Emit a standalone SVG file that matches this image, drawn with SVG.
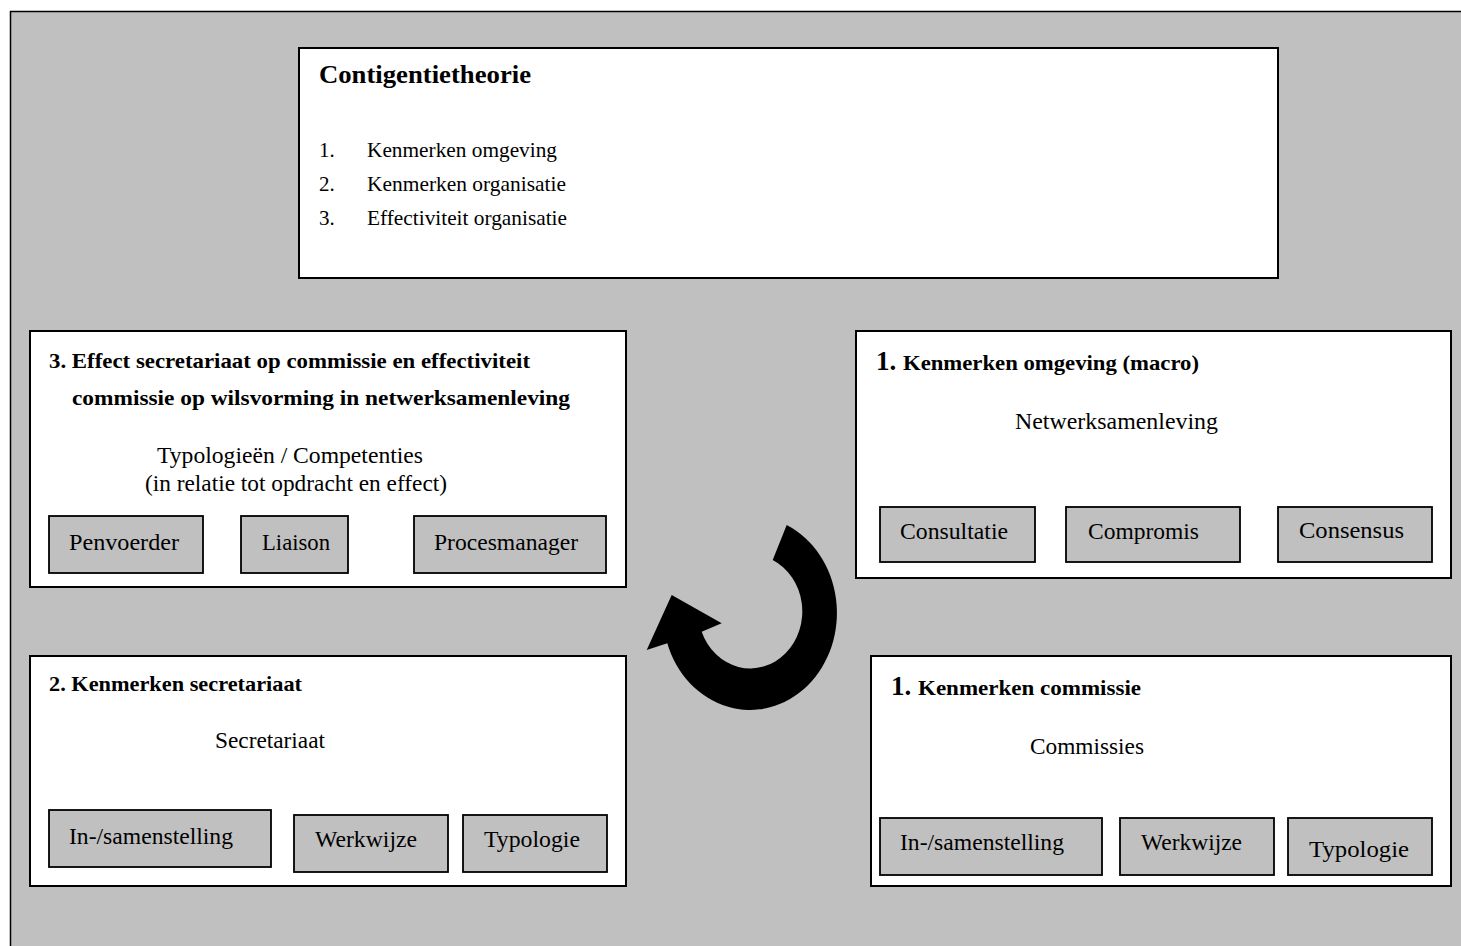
<svg xmlns="http://www.w3.org/2000/svg" width="1461" height="946" viewBox="0 0 1461 946">
<style>
.frame{fill:#c0c0c0;stroke:#000;stroke-width:1.5}
.box{fill:#fff;stroke:#000;stroke-width:2}
.sub{fill:#c0c0c0;stroke:#000;stroke-width:1.8}
text{font-family:"Liberation Serif","Times New Roman",serif;fill:#000}
.t{font-size:23.5px}
.b{font-size:22px;font-weight:bold}
.big{font-size:27px;font-weight:bold}
.lst{font-size:21px}
.hd{font-size:26px;font-weight:bold}
</style>
<rect class="frame" x="10.5" y="11.5" width="1460" height="945"/>

<g id="contigentietheorie">
<rect class="box" x="299" y="48" width="979" height="230"/>
<text class="hd" x="319" y="83" textLength="212" lengthAdjust="spacingAndGlyphs">Contigentietheorie</text>
<text class="lst" x="319" y="157">1.</text>
<text class="lst" x="367" y="157" textLength="190" lengthAdjust="spacingAndGlyphs">Kenmerken omgeving</text>
<text class="lst" x="319" y="191">2.</text>
<text class="lst" x="367" y="191" textLength="199" lengthAdjust="spacingAndGlyphs">Kenmerken organisatie</text>
<text class="lst" x="319" y="225">3.</text>
<text class="lst" x="367" y="225" textLength="200" lengthAdjust="spacingAndGlyphs">Effectiviteit organisatie</text>
</g>

<g id="effect-secretariaat">
<rect class="box" x="30" y="331" width="596" height="256"/>
<text class="b" x="49" y="368" textLength="481" lengthAdjust="spacingAndGlyphs">3. Effect secretariaat op commissie en effectiviteit</text>
<text class="b" x="72" y="405" textLength="498" lengthAdjust="spacingAndGlyphs">commissie op wilsvorming in netwerksamenleving</text>
<text class="t" x="157" y="463" textLength="266" lengthAdjust="spacingAndGlyphs">Typologieën / Competenties</text>
<text class="t" x="145" y="491" textLength="302" lengthAdjust="spacingAndGlyphs">(in relatie tot opdracht en effect)</text>
<g id="penvoerder"><rect class="sub" x="49" y="516" width="154" height="57"/><text class="t" x="69" y="550" textLength="110" lengthAdjust="spacingAndGlyphs">Penvoerder</text></g>
<g id="liaison"><rect class="sub" x="241" y="516" width="107" height="57"/><text class="t" x="262" y="550" textLength="68" lengthAdjust="spacingAndGlyphs">Liaison</text></g>
<g id="procesmanager"><rect class="sub" x="414" y="516" width="192" height="57"/><text class="t" x="434" y="550" textLength="144" lengthAdjust="spacingAndGlyphs">Procesmanager</text></g>
</g>

<g id="kenmerken-omgeving">
<rect class="box" x="856" y="331" width="595" height="247"/>
<text x="876" y="370"><tspan class="big">1.</tspan><tspan class="b" x="903" textLength="296" lengthAdjust="spacingAndGlyphs">Kenmerken omgeving (macro)</tspan></text>
<text class="t" x="1015" y="429" textLength="203" lengthAdjust="spacingAndGlyphs">Netwerksamenleving</text>
<g id="consultatie"><rect class="sub" x="880" y="507" width="155" height="55"/><text class="t" x="900" y="539" textLength="108" lengthAdjust="spacingAndGlyphs">Consultatie</text></g>
<g id="compromis"><rect class="sub" x="1066" y="507" width="174" height="55"/><text class="t" x="1088" y="539" textLength="111" lengthAdjust="spacingAndGlyphs">Compromis</text></g>
<g id="consensus"><rect class="sub" x="1278" y="507" width="154" height="55"/><text class="t" x="1299" y="538" textLength="105" lengthAdjust="spacingAndGlyphs">Consensus</text></g>
</g>

<g id="kenmerken-secretariaat">
<rect class="box" x="30" y="656" width="596" height="230"/>
<text class="b" x="49" y="691" textLength="253" lengthAdjust="spacingAndGlyphs">2. Kenmerken secretariaat</text>
<text class="t" x="215" y="748" textLength="110" lengthAdjust="spacingAndGlyphs">Secretariaat</text>
<g id="sec-samenstelling"><rect class="sub" x="49" y="810" width="222" height="57"/><text class="t" x="69" y="844" textLength="164" lengthAdjust="spacingAndGlyphs">In-/samenstelling</text></g>
<g id="sec-werkwijze"><rect class="sub" x="294" y="815" width="154" height="57"/><text class="t" x="315" y="847" textLength="102" lengthAdjust="spacingAndGlyphs">Werkwijze</text></g>
<g id="sec-typologie"><rect class="sub" x="463" y="815" width="144" height="57"/><text class="t" x="484" y="847" textLength="96" lengthAdjust="spacingAndGlyphs">Typologie</text></g>
</g>

<g id="kenmerken-commissie">
<rect class="box" x="871" y="656" width="580" height="230"/>
<text x="891" y="695"><tspan class="big">1.</tspan><tspan class="b" x="918" textLength="223" lengthAdjust="spacingAndGlyphs">Kenmerken commissie</tspan></text>
<text class="t" x="1030" y="754" textLength="114" lengthAdjust="spacingAndGlyphs">Commissies</text>
<g id="com-samenstelling"><rect class="sub" x="880" y="818" width="222" height="57"/><text class="t" x="900" y="850" textLength="164" lengthAdjust="spacingAndGlyphs">In-/samenstelling</text></g>
<g id="com-werkwijze"><rect class="sub" x="1120" y="818" width="154" height="57"/><text class="t" x="1141" y="850" textLength="101" lengthAdjust="spacingAndGlyphs">Werkwijze</text></g>
<g id="com-typologie"><rect class="sub" x="1288" y="818" width="144" height="57"/><text class="t" x="1309" y="857" textLength="100" lengthAdjust="spacingAndGlyphs">Typologie</text></g>
</g>

<g id="connectors">
<path id="cycle-arrow" fill="#000" d="M786.7,525 A87,97 0 1 1 667.3,643.3 L646.7,650 L671.7,595 L721.7,623.3 L701.7,631.7 A52,57 0 1 0 772.7,560 Z"/>
</g>
</svg>
